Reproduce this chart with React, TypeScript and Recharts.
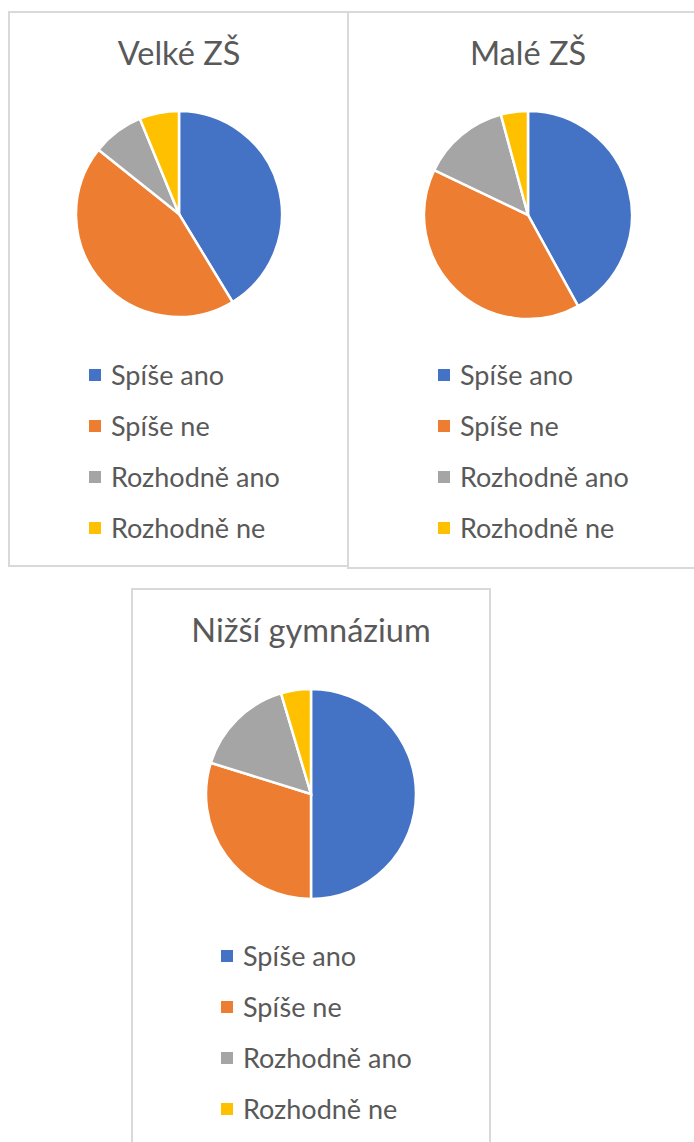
import { PieChart, Pie, Cell, Legend } from "recharts";

const CATEGORIES = ["Spíše ano", "Spíše ne", "Rozhodně ano", "Rozhodně ne"];
const COLORS = ["#4472C4", "#ED7D31", "#A5A5A5", "#FFC000"];

const VELKE_ZS = [41.3, 44.4, 8.1, 6.2];
const MALE_ZS = [42.0, 40.1, 13.7, 4.2];
const NIZSI_GYM = [50.0, 29.8, 15.6, 4.6];

const FONT = "Lato, 'Noto Sans', sans-serif";
const TEXT = "#595959";

const toRows = (values: number[]) =>
  CATEGORIES.map((name, i) => ({ name, value: values[i] }));

interface PanelProps {
  title: string;
  values: number[];
  left: number;
  top: number;
  width: number;
  height: number;
  cx: number;
  cy: number;
  r: number;
  legendLeft: number;
  legendTop: number;
}

function Panel({ title, values, left, top, width, height, cx, cy, r, legendLeft, legendTop }: PanelProps) {
  const data = toRows(values);
  return (
    <div
      style={{
        position: "absolute",
        left,
        top,
        width,
        height,
        border: "2px solid #d9d9d9",
        boxSizing: "border-box",
        background: "#fff",
      }}
    >
      <div
        style={{
          position: "absolute",
          left: cx - 150,
          width: 300,
          top: 21,
          textAlign: "center",
          fontFamily: FONT,
          fontSize: 32.5,
          color: TEXT,
          lineHeight: "38px",
        }}
      >
        {title}
      </div>
      <PieChart
        width={width - 4}
        height={height - 4}
        margin={{ top: 0, right: 0, bottom: 0, left: 0 }}
        style={{ position: "absolute", left: 0, top: 0 }}
      >
        <Pie
          data={data}
          dataKey="value"
          nameKey="name"
          cx={cx}
          cy={cy}
          outerRadius={r}
          startAngle={90}
          endAngle={-270}
          stroke="#fff"
          strokeWidth={2.5}
          isAnimationActive={false}
        >
          {data.map((d, i) => (
            <Cell key={d.name} fill={COLORS[i]} />
          ))}
        </Pie>
        <Legend
          layout="vertical"
          verticalAlign="middle"
          align="center"
          wrapperStyle={{ left: legendLeft, top: legendTop, width: 240 }}
          content={(props: any) => {
            const items = [...(props.payload || [])].sort(
              (a: any, b: any) => CATEGORIES.indexOf(a.value) - CATEGORIES.indexOf(b.value)
            );
            return (
              <div>
                {items.map((entry: any) => {
                  const idx = CATEGORIES.indexOf(entry.value);
                  return (
                    <div
                      key={entry.value}
                      style={{ display: "flex", alignItems: "center", height: 51, fontFamily: FONT, fontSize: 27, color: TEXT }}
                    >
                      <span
                        style={{ display: "inline-block", width: 12, height: 12, background: COLORS[idx], marginRight: 10 }}
                      />
                      <span>{entry.value}</span>
                    </div>
                  );
                })}
              </div>
            );
          }}
        />
      </PieChart>
    </div>
  );
}

export default function App() {
  return (
    <div style={{ position: "absolute", left: 0, top: 0, width: 694, height: 1142, background: "#fff", overflow: "hidden" }}>
      <Panel title="Velké ZŠ" values={VELKE_ZS} left={8} top={11} width={341} height={556} cx={169} cy={201} r={103} legendLeft={79} legendTop={336} />
      <Panel title="Malé ZŠ" values={MALE_ZS} left={347} top={11} width={360} height={558} cx={179} cy={202} r={104} legendLeft={89} legendTop={336} />
      <Panel title="Nižší gymnázium" values={NIZSI_GYM} left={131} top={588} width={360} height={570} cx={178} cy={204} r={105} legendLeft={88} legendTop={340} />
    </div>
  );
}
